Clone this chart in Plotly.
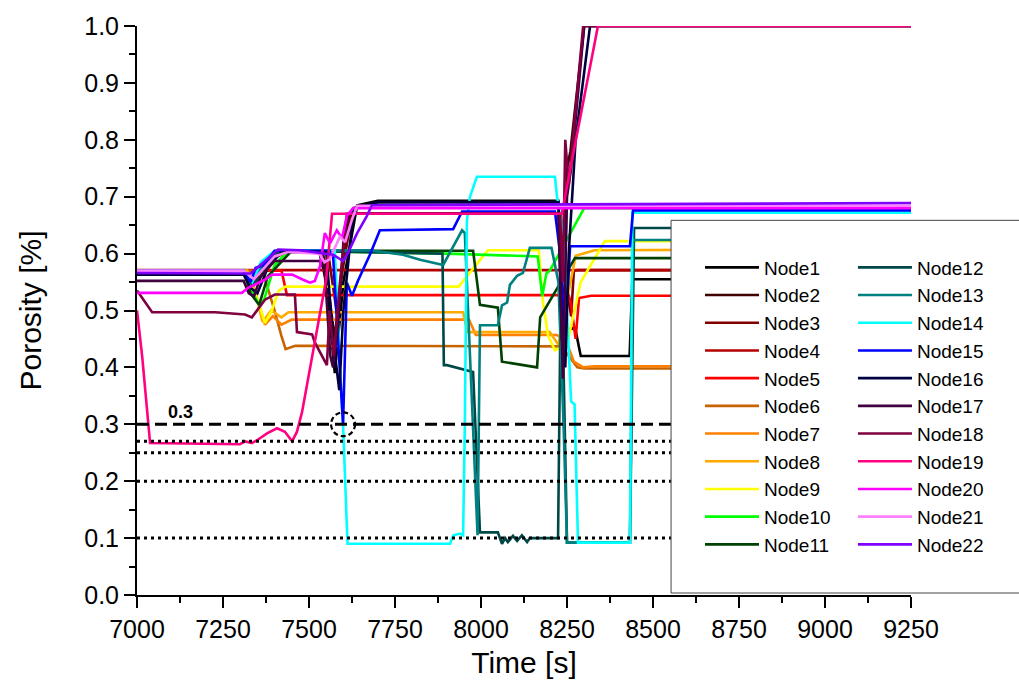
import plotly.graph_objects as go

# ---------------- data ----------------
node_names = [f"Node{i}" for i in range(1, 23)]
node_colors = ["#000000", "#400000", "#800000", "#b40000", "#ff0000", "#c86400",
               "#ff8000", "#ffaa00", "#ffff00", "#00ff00", "#004000", "#004848",
               "#008080", "#00ffff", "#0000ff", "#000040", "#400040", "#800040",
               "#ff0080", "#ff00ff", "#ff80ff", "#8000ff"]

T1 = [7000, 7310, 7335, 7370, 7420, 7530, 7550, 7575, 7600, 7640, 7700, 8225, 8235, 8245, 8262, 8275, 8290, 8432, 8440, 9250]
P1 = [0.57, 0.57, 0.54, 0.58, 0.603, 0.603, 0.55, 0.39, 0.55, 0.685, 0.693, 0.693, 0.55, 0.45, 0.47, 0.465, 0.42, 0.42, 0.555, 0.555]

T2 = [7000, 7310, 7340, 7380, 7430, 7540, 7560, 7575, 7600, 7620, 8230, 8240, 8250, 8260, 8300, 9250]
P2 = [0.57, 0.57, 0.545, 0.585, 0.604, 0.604, 0.52, 0.45, 0.60, 0.67, 0.67, 0.42, 0.75, 0.78, 1.0, 1.0]

T3 = [7000, 7310, 7345, 7390, 7440, 7555, 7580, 7600, 7625, 8232, 8245, 8262, 8270, 8280, 9250]
P3 = [0.57, 0.57, 0.55, 0.59, 0.604, 0.604, 0.50, 0.58, 0.67, 0.67, 0.56, 0.49, 0.57, 0.571, 0.571]

T4 = [7000, 9250]
P4 = [0.571, 0.571]

T5 = [7000, 7420, 7436, 8255, 8262, 8275, 8285, 8320, 9250]
P5 = [0.57, 0.57, 0.527, 0.527, 0.51, 0.45, 0.522, 0.526, 0.526]

T6 = [7000, 7330, 7370, 7400, 7420, 7432, 7460, 8215, 8235, 8255, 8280, 8300, 9250]
P6 = [0.57, 0.57, 0.56, 0.50, 0.455, 0.432, 0.438, 0.438, 0.437, 0.42, 0.40, 0.398, 0.398]

T7 = [7000, 7320, 7350, 7372, 7395, 7420, 7450, 7965, 7985, 8220, 8245, 8270, 8297, 8330, 9250]
P7 = [0.57, 0.57, 0.52, 0.475, 0.49, 0.475, 0.484, 0.484, 0.457, 0.457, 0.45, 0.41, 0.40, 0.402, 0.402]

T8 = [7000, 7320, 7345, 7365, 7390, 7420, 7440, 7948, 7960, 8200, 8225, 8250, 8275, 8330, 9250]
P8 = [0.57, 0.57, 0.53, 0.48, 0.50, 0.488, 0.497, 0.497, 0.462, 0.462, 0.44, 0.52, 0.596, 0.606, 0.608]

T9 = [7000, 7310, 7350, 7372, 7392, 7412, 7432, 7935, 8020, 8168, 8180, 8195, 8215, 8250, 8290, 8360, 9250]
P9 = [0.57, 0.57, 0.52, 0.478, 0.50, 0.535, 0.542, 0.542, 0.606, 0.606, 0.515, 0.456, 0.43, 0.44, 0.55, 0.622, 0.622]

T10 = [7000, 7310, 7330, 7355, 7370, 7400, 7440, 7900, 8165, 8178, 8190, 8200, 8300, 9250]
P10 = [0.57, 0.57, 0.54, 0.509, 0.52, 0.58, 0.605, 0.60, 0.595, 0.525, 0.565, 0.57, 0.68, 0.68]

T11 = [7000, 7310, 7330, 7355, 7380, 7450, 7977, 7997, 8049, 8061, 8163, 8172, 8206, 8273, 9250]
P11 = [0.57, 0.57, 0.53, 0.51, 0.56, 0.605, 0.605, 0.51, 0.505, 0.41, 0.40, 0.488, 0.523, 0.592, 0.592]

T12 = [7000, 7310, 7335, 7360, 7400, 7450, 7888, 7892, 7901, 7945, 7977, 7997, 8049, 8061, 8070, 8078, 8093,
       8105, 8119, 8134, 8142, 8224, 8232, 8240, 8250, 8433, 8445, 9250]
P12 = [0.57, 0.57, 0.545, 0.56, 0.60, 0.605, 0.60, 0.404, 0.404, 0.397, 0.392, 0.11, 0.11, 0.09, 0.10, 0.093,
       0.104, 0.095, 0.105, 0.093, 0.10, 0.10, 0.55, 0.40, 0.092, 0.092, 0.645, 0.645]

T13 = [7000, 7310, 7335, 7365, 7430, 7677, 7773, 7823, 7890, 7945, 7953, 7990, 7997, 8049, 8061, 8076, 8084,
       8105, 8122, 8134, 8142, 8205, 8225, 8240, 8250, 8433, 8442, 9250]
P13 = [0.57, 0.57, 0.55, 0.58, 0.605, 0.606, 0.598, 0.589, 0.58, 0.641, 0.636, 0.105, 0.474, 0.474, 0.509,
       0.514, 0.545, 0.561, 0.566, 0.592, 0.61, 0.61, 0.55, 0.30, 0.092, 0.092, 0.624, 0.624]

T14 = [7000, 7310, 7335, 7360, 7400, 7575, 7590, 7599, 7612, 7910, 7920, 7939, 7948, 7953, 7959, 7968, 7988,
       8215, 8221, 8240, 8262, 8272, 8282, 8433, 8440, 9250]
P14 = [0.57, 0.57, 0.55, 0.585, 0.605, 0.605, 0.40, 0.30, 0.09, 0.09, 0.105, 0.108, 0.105, 0.30, 0.658,
       0.70, 0.735, 0.735, 0.70, 0.63, 0.34, 0.335, 0.092, 0.092, 0.672, 0.672]

T15 = [7000, 7310, 7330, 7345, 7370, 7400, 7560, 7570, 7599, 7610, 7625, 7642, 7677, 7706, 7919, 7945, 8215,
       8230, 8244, 8259, 8433, 8442, 9250]
P15 = [0.57, 0.57, 0.55, 0.575, 0.58, 0.605, 0.605, 0.596, 0.30, 0.549, 0.526, 0.552, 0.598, 0.641, 0.643,
       0.674, 0.674, 0.60, 0.444, 0.613, 0.613, 0.676, 0.676]

T16 = [7000, 7310, 7330, 7350, 7380, 7420, 7550, 7570, 7588, 7600, 7630, 7700, 8225, 8235, 8245, 8255, 8275, 8317, 9250]
P16 = [0.563, 0.563, 0.54, 0.53, 0.575, 0.603, 0.603, 0.45, 0.36, 0.50, 0.68, 0.69, 0.69, 0.45, 0.40, 0.60, 0.80, 1.0, 1.0]

T17 = [7000, 7310, 7325, 7340, 7360, 7400, 7530, 7545, 7562, 7570, 7585, 7600, 7615, 8225, 8238, 8250, 8262, 8300, 9250]
P17 = [0.552, 0.552, 0.53, 0.525, 0.56, 0.587, 0.587, 0.575, 0.42, 0.40, 0.48, 0.62, 0.67, 0.67, 0.38, 0.70, 0.75, 1.0, 1.0]

T18 = [7000, 7044, 7227, 7314, 7334, 7372, 7401, 7459, 7465, 7509, 7517, 7552, 7560, 7572, 7590, 7610, 8230,
       8238, 8245, 8255, 8270, 8297, 9250]
P18 = [0.535, 0.497, 0.497, 0.493, 0.488, 0.519, 0.528, 0.528, 0.462, 0.458, 0.444, 0.404, 0.50, 0.42, 0.55,
       0.67, 0.67, 0.55, 0.80, 0.72, 0.82, 1.0, 1.0]

T19 = [7000, 7015, 7038, 7299, 7315, 7334, 7349, 7378, 7407, 7430, 7451, 7465, 7480, 7503, 7517, 7532, 7550,
       7567, 8235, 8260, 8340, 9250]
P19 = [0.50, 0.42, 0.267, 0.265, 0.27, 0.267, 0.272, 0.284, 0.293, 0.287, 0.27, 0.287, 0.322, 0.397, 0.444,
       0.491, 0.555, 0.67, 0.67, 0.75, 1.0, 1.0]

T20 = [7000, 7305, 7323, 7372, 7392, 7451, 7483, 7503, 7517, 7532, 7546, 7561, 7581, 7596, 7610, 7628, 9250]
P20 = [0.531, 0.531, 0.54, 0.554, 0.563, 0.563, 0.554, 0.549, 0.552, 0.578, 0.636, 0.618, 0.641, 0.627,
       0.666, 0.68, 0.68]

T21 = [7000, 7310, 7340, 7400, 7440, 7530, 7545, 7560, 7590, 7605, 7625, 7640, 9250]
P21 = [0.57, 0.57, 0.555, 0.595, 0.603, 0.60, 0.585, 0.59, 0.63, 0.62, 0.66, 0.684, 0.684]

T22 = [7000, 7310, 7330, 7350, 7410, 7474, 7570, 7599, 7613, 7640, 7668, 7683, 9250]
P22 = [0.566, 0.566, 0.565, 0.575, 0.607, 0.606, 0.598, 0.587, 0.601, 0.636, 0.666, 0.685, 0.689]

node_times = [T1, T2, T3, T4, T5, T6, T7, T8, T9, T10, T11, T12, T13, T14, T15, T16, T17, T18, T19, T20, T21, T22]
node_poro = [P1, P2, P3, P4, P5, P6, P7, P8, P9, P10, P11, P12, P13, P14, P15, P16, P17, P18, P19, P20, P21, P22]

time_span = [7000, 9250]
dashed_levels = [0.3]
dotted_levels = [0.27, 0.25, 0.2, 0.1]
label_text = "0.3"
label_pos = (7125, 0.322)
highlight = (7599, 0.30)

x_ticks = [7000, 7250, 7500, 7750, 8000, 8250, 8500, 8750, 9000, 9250]

# ---------------- figure ----------------
FONT = "Arial, Liberation Sans, sans-serif"
fig = go.Figure()

for i, (name, col, t, p) in enumerate(zip(node_names, node_colors, node_times, node_poro)):
    fig.add_trace(go.Scatter(
        x=t, y=p, mode="lines", name=name,
        line=dict(color=col, width=2.6),
        legend="legend" if i < 11 else "legend2",
    ))

for lv in dashed_levels:
    fig.add_trace(go.Scatter(x=time_span, y=[lv, lv], mode="lines", showlegend=False,
                             line=dict(color="black", width=3, dash="12px,6px")))
for lv in dotted_levels:
    fig.add_trace(go.Scatter(x=time_span, y=[lv, lv], mode="lines", showlegend=False,
                             line=dict(color="black", width=3, dash="3px,4px")))

fig.add_annotation(x=label_pos[0], y=label_pos[1], text="<b>" + label_text + "</b>", showarrow=False,
                   font=dict(family=FONT, size=18, color="black"))

# dashed highlight circle (radius in pixels converted to data units)
px_per_t = 774 / 2250.0
px_per_p = 574 / 1.0
r_px = 12
fig.add_shape(type="circle", xref="x", yref="y",
              x0=highlight[0] - r_px / px_per_t, x1=highlight[0] + r_px / px_per_t,
              y0=highlight[1] - r_px / px_per_p, y1=highlight[1] + r_px / px_per_p,
              line=dict(color="black", width=2.2, dash="5px,3px"), layer="above")

# legend frame
fig.add_shape(type="rect", xref="paper", yref="paper", x0=0.69, x1=1.145, y0=0.0035, y1=0.6585,
              fillcolor="white", line=dict(color="#444444", width=1), layer="above")

axis_common = dict(showline=True, linewidth=2, linecolor="black", ticks="outside", tickwidth=2,
                   tickcolor="black", ticklen=11, showgrid=False, zeroline=False,
                   tickfont=dict(family=FONT, size=25, color="black"))

fig.update_layout(
    width=1019, height=691,
    margin=dict(l=137, r=108, t=21, b=96),
    plot_bgcolor="white", paper_bgcolor="white",
    font=dict(family=FONT, color="black"),
    xaxis=dict(range=time_span, tickvals=x_ticks,
               minor=dict(dtick=125, tick0=7000, ticks="outside", ticklen=6, tickwidth=2, tickcolor="black"),
               title=dict(text="Time [s]", font=dict(family=FONT, size=30), standoff=10),
               **axis_common),
    yaxis=dict(range=[0, 1.0], dtick=0.1, tick0=0, tickformat=".1f",
               minor=dict(dtick=0.05, tick0=0, ticks="outside", ticklen=6, tickwidth=2, tickcolor="black"),
               title=dict(text="Porosity [%]", font=dict(family=FONT, size=30), standoff=34),
               **axis_common),
    legend=dict(x=0.7274, y=0.609, xanchor="left", yanchor="top", bgcolor="rgba(0,0,0,0)",
                borderwidth=0, font=dict(family=FONT, size=19, color="black"), itemwidth=54, tracegroupgap=0),
    legend2=dict(x=0.925, y=0.609, xanchor="left", yanchor="top", bgcolor="rgba(0,0,0,0)",
                 borderwidth=0, font=dict(family=FONT, size=19, color="black"), itemwidth=54, tracegroupgap=0),
    showlegend=True,
)

fig.write_html("out.html")
